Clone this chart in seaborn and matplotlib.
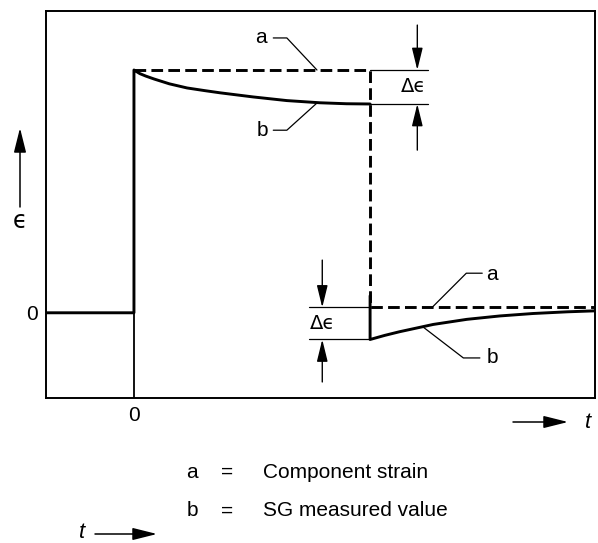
import matplotlib
matplotlib.use("Agg")
import matplotlib.pyplot as plt
import numpy as np
import pandas as pd
import seaborn as sns

# -------------------------
# data (time units, strain normalised to step = 1)
# -------------------------
t_load = 0.0
t_unload = 4.0
a_high = 1.0
a_low = 0.022

# b curve while loaded (creep of SG reading)
b_up_t = [0.0, 0.10, 0.20, 0.34, 0.60, 0.90, 1.20, 1.46, 2.02, 2.59, 3.15, 3.60, 4.0]
b_up_v = [1.0, 0.985, 0.975, 0.963, 0.943, 0.926, 0.915, 0.906, 0.889, 0.874, 0.865, 0.861, 0.860]

# b curve after unloading
b_dn_t = [4.0, 4.25, 4.5, 5.07, 5.64, 6.2, 6.76, 7.34, 7.81]
b_dn_v = [-0.110, -0.093, -0.078, -0.048, -0.027, -0.013, -0.003, 0.004, 0.008]
b_jump_top = 0.07

xlim = (-1.49, 7.81)
ylim = (-0.351, 1.243)

# -------------------------
# style
# -------------------------
sns.set_theme(style="white")
plt.rcParams['font.family'] = ['Liberation Sans', 'DejaVu Sans']
plt.rcParams['text.color'] = 'black'
plt.rcParams['xtick.color'] = 'black'
plt.rcParams['ytick.color'] = 'black'
W, H = 598, 543
fig = plt.figure(figsize=(W / 100, H / 100), dpi=100)
ax = fig.add_axes([46 / W, 1 - 398 / H, (595 - 46) / W, (398 - 11) / H])
ax.set_xlim(*xlim)
ax.set_ylim(*ylim)
for s in ax.spines.values():
    s.set_color("black")
    s.set_linewidth(1.4)

lw = 2.1
dash = (4, 1.8)


def seg(x, y, dashed=False, width=lw):
    df = pd.DataFrame({"x": x, "y": y})
    line_kws = dict(color="black", linewidth=width, sort=False, estimator=None, ax=ax)
    if dashed:
        line_kws["linestyle"] = (0, dash)
    sns.lineplot(data=df, x="x", y="y", **line_kws)


# solid: zero level, step up, creep curve
seg([xlim[0], t_load, t_load] + b_up_t, [0, 0, a_high] + b_up_v)
# dashed component strain a
seg([t_load, t_unload, t_unload, xlim[1]], [a_high, a_high, a_low, a_low], dashed=True)
# solid after unloading
seg([t_unload] + b_dn_t, [b_jump_top] + b_dn_v)
# thin line at t=0 below zero
seg([t_load, t_load], [ylim[0], 0], width=1.3)

thin = dict(color="black", linewidth=0.9)
# upper delta-epsilon
ax.plot([t_unload, 4.98], [a_high, a_high], **thin)
ax.plot([t_unload, 4.98], [b_up_v[-1], b_up_v[-1]], **thin)
# lower delta-epsilon
ax.plot([2.97, t_unload], [a_low, a_low], **thin)
ax.plot([2.97, t_unload], [b_dn_v[0], b_dn_v[0]], **thin)

arr = dict(arrowstyle="-|>,head_width=0.22,head_length=0.9", color="black",
           linewidth=1.0, mutation_scale=15, shrinkA=0, shrinkB=0)
ax.annotate("", xy=(4.80, a_high), xytext=(4.80, 1.185), arrowprops=arr, annotation_clip=False)
ax.annotate("", xy=(4.80, b_up_v[-1]), xytext=(4.80, 0.670), arrowprops=arr, annotation_clip=False)
ax.annotate("", xy=(3.19, a_low), xytext=(3.19, 0.217), arrowprops=arr, annotation_clip=False)
ax.annotate("", xy=(3.19, b_dn_v[0]), xytext=(3.19, -0.285), arrowprops=arr, annotation_clip=False)

de_font = dict(fontsize=14, family="DejaVu Sans", ha="center", va="center")
ax.text(4.73, 0.93, "Δϵ", **de_font)
ax.text(3.2, -0.045, "Δϵ", **de_font)

# labels a / b with leader lines
lab = dict(fontsize=15, ha="center", va="center")
ax.text(2.15, 1.132, "a", **lab)
ax.plot([2.36, 2.59, 3.10], [1.132, 1.132, a_high], **thin)
ax.text(2.17, 0.752, "b", **lab)
ax.plot([2.36, 2.59, 3.10], [0.752, 0.752, 0.864], **thin)
ax.text(6.07, 0.158, "a", **lab)
ax.plot([5.90, 5.63, 5.05], [0.163, 0.163, a_low], **thin)
ax.text(6.07, -0.186, "b", **lab)
ax.plot([5.86, 5.58, 4.90], [-0.186, -0.186, -0.059], **thin)

# ticks
ax.set_xticks([0])
ax.set_xticklabels(["0"], fontsize=15)
ax.set_yticks([0])
ax.set_yticklabels(["0"], fontsize=15)
ax.tick_params(length=0, pad=6)
ax.set_xlabel("")
ax.set_ylabel("")


# things outside the axes, placed in figure pixels (top-down)
def fp(x, y):
    return (x / W, 1 - y / H)


farr = dict(arrowstyle="-|>,head_width=0.25,head_length=1.0", color="black",
            linewidth=1.1, mutation_scale=15, shrinkA=0, shrinkB=0)
ax.annotate("", xy=fp(20, 128), xytext=fp(20, 207), xycoords="figure fraction",
            textcoords="figure fraction", arrowprops=farr, annotation_clip=False)
fig.text(*fp(20, 221), "ϵ", fontsize=17, family="DejaVu Sans", ha="center", va="center")

ax.annotate("", xy=fp(568, 422), xytext=fp(513, 422), xycoords="figure fraction",
            textcoords="figure fraction", arrowprops=farr, annotation_clip=False)
fig.text(*fp(588, 423), "t", fontsize=16, style="italic", ha="center", va="center")

ax.annotate("", xy=fp(157, 534), xytext=fp(95, 534), xycoords="figure fraction",
            textcoords="figure fraction", arrowprops=farr, annotation_clip=False)
fig.text(*fp(82, 533), "t", fontsize=16, style="italic", ha="center", va="center")

# legend text
leg_keys = ["a", "b"]
leg_desc = ["Component strain", "SG measured value"]
for i, (k, d) in enumerate(zip(leg_keys, leg_desc)):
    yy = 472 + i * 39
    fig.text(*fp(192, yy), k, fontsize=15, ha="center", va="center")
    fig.text(*fp(227, yy), "=", fontsize=15, ha="center", va="center")
    fig.text(*fp(263, yy), d, fontsize=15, ha="left", va="center")

fig.savefig("out.png", dpi=100)
